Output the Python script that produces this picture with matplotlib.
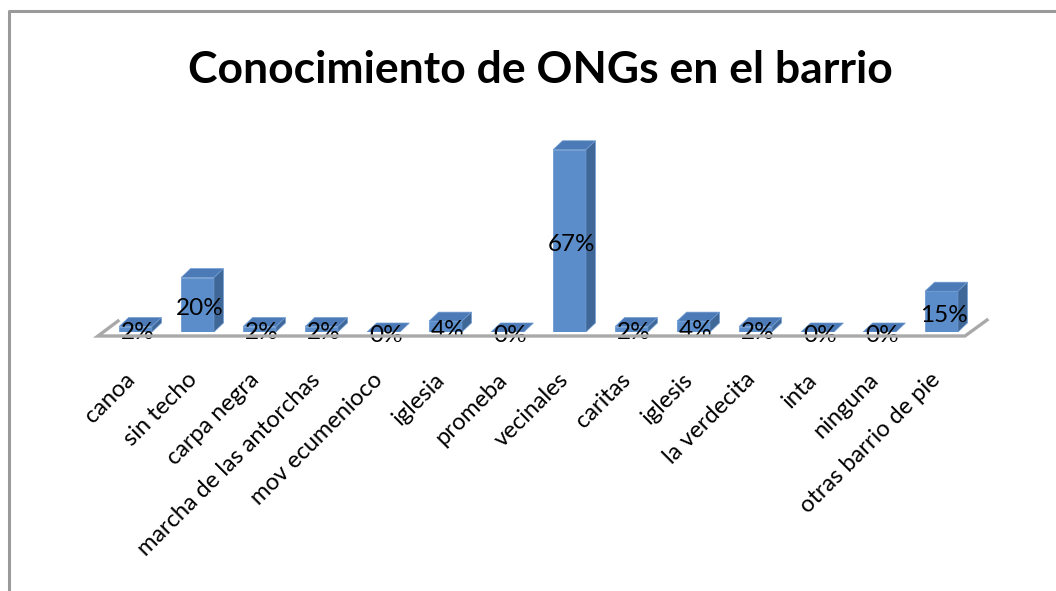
import matplotlib
matplotlib.use("Agg")
import matplotlib.pyplot as plt
import numpy as np
from matplotlib.patches import Polygon
from matplotlib.lines import Line2D

plt.rcParams['font.family'] = ['Lato', 'DejaVu Sans']

categories = ['canoa', 'sin techo', 'carpa negra', 'marcha de las antorchas',
              'mov ecumenioco', 'iglesia', 'promeba', 'vecinales', 'caritas',
              'iglesis', 'la verdecita', 'inta', 'ninguna', 'otras barrio de pie']
percent = [2, 20, 2, 2, 0, 4, 0, 67, 2, 4, 2, 0, 0, 15]

W, H = 1056, 591
FRONT = '#5B8DCA'
SIDE = '#3F6798'
TOP = '#4C7AB6'

fig = plt.figure(figsize=(W / 100, H / 100), dpi=100)


def fx(x):
    return x / W


def fy(y):
    return 1 - y / H


# plot area: 14 slots of 62 px, zero line at y=332, 2.72 px per percent
ax = fig.add_axes([fx(104.5), fy(332), 868 / W, 217.6 / H])
ax.set_xlim(-0.5, len(categories) - 0.5)
ax.set_ylim(0, 80)
ax.axis('off')

# chart border
fig.add_artist(Line2D([fx(9), fx(9), fx(W)], [fy(H), fy(11), fy(11)],
                      color='#9a9a9a', lw=2.2, transform=fig.transFigure))

# floor of the 3d plot
floor_x = [fx(118), fx(98), fx(965), fx(987)]
floor_y = [fy(321), fy(336), fy(336), fy(320)]
fig.add_artist(Line2D(floor_x, floor_y, color='#a9a9a9', lw=2.4,
                      solid_joinstyle='miter', transform=fig.transFigure))

x = np.arange(len(categories))
width = 0.53
ax.bar(x, percent, width=width, color=FRONT, edgecolor='#6f9bd2', lw=0.6, zorder=3)

# depth of the bars converted from pixels to data units
p0 = ax.transData.transform((0, 0))
d = ax.transData.inverted().transform(p0 + np.array([9.5, 9.0]))
ddx, ddy = d[0], d[1]

for xi, v in zip(x, percent):
    x0, x1 = xi - width / 2, xi + width / 2
    top = [(x0, v), (x1, v), (x1 + ddx, v + ddy), (x0 + ddx, v + ddy)]
    ax.add_patch(Polygon(top, closed=True, facecolor=TOP, edgecolor='#6f9bd2',
                         lw=0.5, zorder=3))
    if v > 0:
        side = [(x1, 0), (x1 + ddx, ddy), (x1 + ddx, v + ddy), (x1, v)]
        ax.add_patch(Polygon(side, closed=True, facecolor=SIDE, edgecolor='#6f9bd2',
                             lw=0.5, zorder=3))
    ax.annotate(f'{v}%', (xi, v / 2), xytext=(1.5, -2.5), textcoords='offset points',
                ha='center', va='center', fontsize=17.5, color='black', zorder=5)

for xi, name in zip(x, categories):
    ax.annotate(name, (xi, 0), xytext=(-3, -32), textcoords='offset points',
                rotation=45, rotation_mode='anchor', ha='right', va='center',
                fontsize=17, color='black')

fig.text(fx(540), fy(70), 'Conocimiento de ONGs en el barrio', ha='center',
         va='center', fontsize=32, fontweight='bold', color='black')

fig.savefig('out.png', dpi=100, facecolor='white')
